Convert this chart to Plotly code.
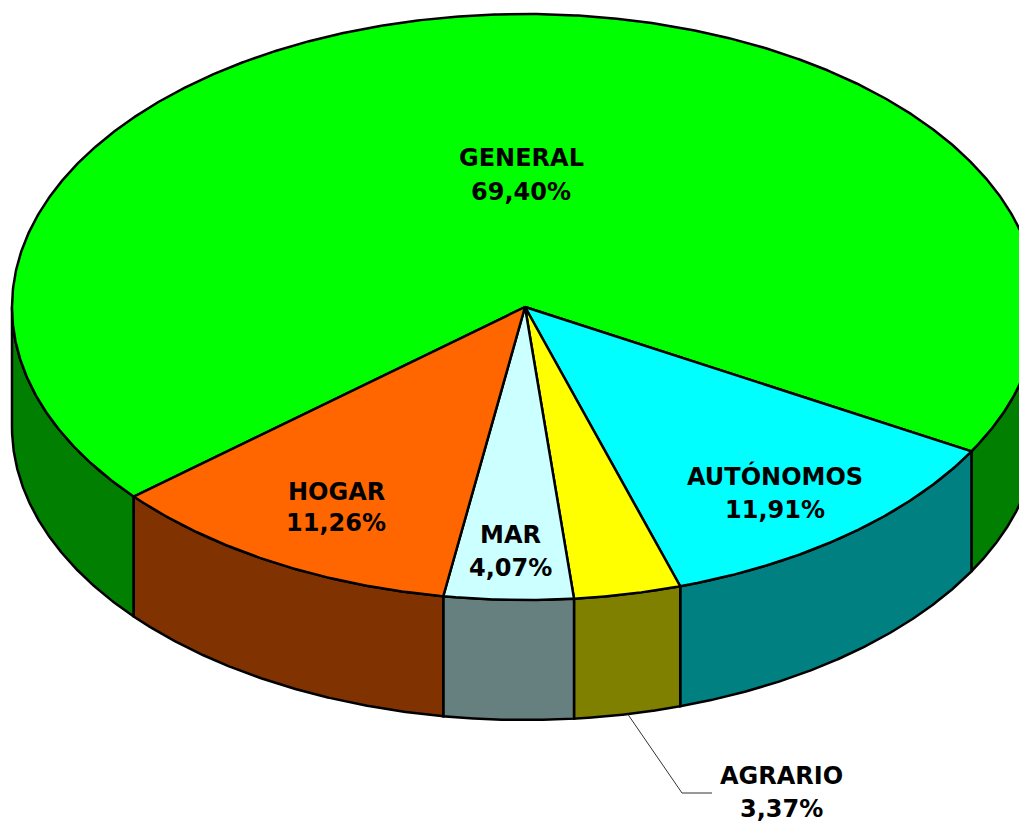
import numpy as np
import plotly.graph_objects as go

# ---- data (clockwise order, starting at the GENERAL slice) ----
categories = ["GENERAL", "AUTÓNOMOS", "AGRARIO", "MAR", "HOGAR"]
values = [69.40, 11.91, 3.37, 4.07, 11.26]
pct_labels = ["69,40%", "11,91%", "3,37%", "4,07%", "11,26%"]

# ---- styles ----
top_colors = ["#00FF00", "#00FFFF", "#FFFF00", "#CCFFFF", "#FF6600"]
side_colors = ["#007F00", "#008080", "#808000", "#668080", "#803300"]

# ---- geometry (pixel space of the 1027x822 window) ----
W, H = 1027, 822
OFF = 8  # page body margin
CX, CY = 525, 307
RX, RY = 513, 293
DEPTH = 120
START = 220.3  # degrees, slices run clockwise
LW = 2.5

# label anchors: (x, y of name line, y of percent line)
label_pos = [(521, 158, 192), (775, 476, 510), (781, 776, 809), (510, 535, 568), (336, 492, 523)]
FONT = dict(family="DejaVu Sans", size=24, color="black")


def pt(t_deg, dy=0.0):
    t = np.radians(t_deg)
    return CX + RX * np.cos(t), CY - RY * np.sin(t) + dy


fig = go.Figure()

total = float(sum(values))
bounds = []
a = START
for v in values:
    b = a - v / total * 360.0
    bounds.append((b, a))
    a = b

# side faces (visible front half: angles where sin <= 0)
for (lo, hi), col in zip(bounds, side_colors):
    for k in (-2, -1, 0, 1):
        s_lo, s_hi = 180 + 360 * k, 360 + 360 * k
        l, h = max(lo, s_lo), min(hi, s_hi)
        if h - l <= 1e-6:
            continue
        t = np.linspace(l, h, 200)
        xt, yt = pt(t)
        xb, yb = pt(t[::-1], DEPTH)
        xs = np.concatenate([xt, xb, xt[:1]])
        ys = np.concatenate([yt, yb, yt[:1]])
        fig.add_trace(go.Scatter(x=xs, y=ys, mode="lines", fill="toself",
                                 fillcolor=col, line=dict(color="black", width=LW),
                                 hoverinfo="skip", showlegend=False))

# top faces
for (lo, hi), col in zip(bounds, top_colors):
    n = max(int((hi - lo) * 3), 20)
    t = np.linspace(hi, lo, n)
    xa, ya = pt(t)
    xs = np.concatenate([[CX], xa, [CX]])
    ys = np.concatenate([[CY], ya, [CY]])
    fig.add_trace(go.Scatter(x=xs, y=ys, mode="lines", fill="toself",
                             fillcolor=col, line=dict(color="black", width=LW),
                             hoverinfo="skip", showlegend=False))

# leader line for AGRARIO (small slice labelled outside)
i_ag = categories.index("AGRARIO")
mid = (bounds[i_ag][0] + bounds[i_ag][1]) / 2
x0, y0 = pt(mid, DEPTH)
lx, ly1, ly2 = label_pos[i_ag]
fig.add_trace(go.Scatter(x=[x0, lx - 99, lx - 69], y=[y0, ly1 + 17, ly1 + 17], mode="lines",
                         line=dict(color="#333333", width=1), hoverinfo="skip", showlegend=False))

# labels
for name, pct, (lx, y1, y2) in zip(categories, pct_labels, label_pos):
    fig.add_annotation(x=lx, y=y1, xref="x", yref="y", text=f"<b>{name}</b>",
                       showarrow=False, font=FONT, xanchor="center", yanchor="middle")
    fig.add_annotation(x=lx, y=y2, xref="x", yref="y", text=f"<b>{pct}</b>",
                       showarrow=False, font=FONT, xanchor="center", yanchor="middle")

fig.update_layout(
    width=W - OFF, height=H - OFF,
    margin=dict(l=0, r=0, t=0, b=0),
    paper_bgcolor="white", plot_bgcolor="white",
    xaxis=dict(range=[OFF, W], visible=False, fixedrange=True),
    yaxis=dict(range=[H, OFF], visible=False, fixedrange=True),
    showlegend=False,
)

fig.write_html("out.html")
